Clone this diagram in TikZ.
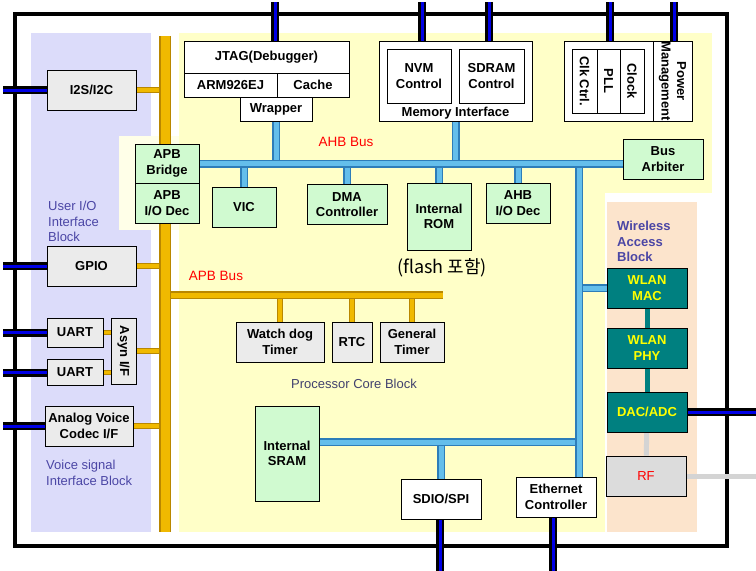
\documentclass[tikz,border=0pt]{standalone}
\usepackage{fontspec}
\setmainfont{Liberation Sans}
\newfontfamily\krfont{Noto Sans CJK KR}
\definecolor{lavender}{RGB}{220,220,250}
\definecolor{paleyel}{RGB}{255,255,200}
\definecolor{paleext}{RGB}{255,255,232}
\definecolor{peach}{RGB}{252,228,204}
\definecolor{boxgray}{RGB}{235,235,235}
\definecolor{boxgreen}{RGB}{208,250,208}
\definecolor{wlanteal}{RGB}{0,128,128}
\definecolor{wlanyel}{RGB}{255,255,0}
\definecolor{rfgray}{RGB}{220,220,220}
\definecolor{linkgray}{RGB}{212,212,212}
\definecolor{pinblue}{RGB}{0,0,230}
\definecolor{ahbblue}{RGB}{100,190,235}
\definecolor{ahbedge}{RGB}{45,125,185}
\definecolor{apbgold}{RGB}{240,185,0}
\definecolor{apbedge}{RGB}{185,135,0}
\definecolor{blocktxt}{RGB}{75,70,165}
\definecolor{coretxt}{RGB}{65,65,110}
\pgfdeclarelayer{regions}
\pgfdeclarelayer{links}
\pgfsetlayers{regions,links,main}
\tikzset{
  box/.style={draw=black, line width=0.8pt, inner sep=1pt, align=center,
    font=\bfseries\fontsize{13}{15.5}\selectfont},
  graybox/.style={box, fill=boxgray},
  greenbox/.style={box, fill=boxgreen},
  whitebox/.style={box, fill=white},
  wlanbox/.style={box, fill=wlanteal, text=wlanyel},
  blocklabel/.style={align=left, inner sep=0pt, text=blocktxt,
    font=\fontsize{13}{15.5}\selectfont},
  buslabel/.style={inner sep=0pt, text=red, font=\fontsize{13.5}{15}\selectfont},
  iopin/.style={draw=black, line width=2.5pt, double=pinblue, double distance=3pt},
  ahbbus/.style={draw=ahbedge, line width=1.5pt, double=ahbblue, double distance=5pt},
  apbbus/.style={draw=apbedge, line width=1.5pt, double=apbgold, double distance=9pt},
  apblink/.style={draw=apbedge, line width=1pt, double=apbgold, double distance=4pt},
  wlanlink/.style={draw=wlanteal, line width=5pt},
  rflink/.style={draw=linkgray, line width=5pt}
}
\begin{document}
\begin{tikzpicture}[x=1pt, y=-1pt]
  \useasboundingbox (0,0) rectangle (756,571);
  % bordi esterni
  \coordinate (edgeL) at (3,0);
  \coordinate (edgeR) at (756,0);
  \coordinate (edgeT) at (0,2);
  \coordinate (edgeB) at (0,571);

  % blocchi di sfondo
  \begin{pgfonlayer}{regions}
    \fill[lavender] (31,33) rectangle (151,532);
    \fill[paleyel] (179,33) rectangle (712,193);
    \fill[paleyel] (179,193) rectangle (605,532);
    \fill[paleext] (119,136) rectangle (179,230);
    \fill[peach] (607,202) rectangle (697,532);
    \draw[line width=4pt] (15,14) rectangle (727,546);
  \end{pgfonlayer}

  % User I/O
  \node[graybox, minimum width=89, minimum height=40] (i2s) at (91.5,90) {I2S/I2C};
  \node[graybox, minimum width=89, minimum height=40] (gpio) at (91.5,266) {GPIO};
  \node[graybox, minimum width=56, minimum height=29] (uart1) at (75,332.5) {UART};
  \node[graybox, minimum width=56, minimum height=26] (uart2) at (75,372.5) {UART};
  \node[graybox, minimum width=25, minimum height=66] (asyn) at (123.5,351) {};
  \node[rotate=-90, font=\bfseries\fontsize{13}{15}\selectfont] at (asyn) {Asyn I/F};
  \node[graybox, minimum width=88, minimum height=40] (avc) at (89,426) {Analog Voice\\Codec I/F};
  \node[blocklabel, anchor=north west] at (48,201) {User I/O\\Interface\\Block};
  \node[blocklabel, anchor=north west] at (46,460) {Voice signal\\Interface Block};

  % CPU e memorie
  \node[whitebox, minimum width=165, minimum height=32] (jtag) at (266.5,57) {JTAG(Debugger)};
  \node[whitebox, minimum width=93, minimum height=24] (arm) at (230.5,85) {ARM926EJ};
  \node[whitebox, minimum width=72, minimum height=24] (cache) at (313,85) {Cache};
  \node[whitebox, minimum width=72, minimum height=24] (wrap) at (276,109) {Wrapper};
  \node[whitebox, minimum width=153, minimum height=80] (mem) at (455.5,81) {};
  \node[whitebox, minimum width=64, minimum height=54] (nvm) at (419,76) {NVM\\Control};
  \node[whitebox, minimum width=65, minimum height=54] (sdram) at (491.5,76) {SDRAM\\Control};
  \node[font=\bfseries\fontsize{13}{15}\selectfont, inner sep=0pt] at (455.5,113) {Memory Interface};
  \node[whitebox, minimum width=89, minimum height=80] (clkbox) at (608.5,81) {};
  \node[whitebox, minimum width=25, minimum height=64] (clkctrl) at (584.5,81) {};
  \node[whitebox, minimum width=23, minimum height=64] (pll) at (608.5,81) {};
  \node[whitebox, minimum width=24, minimum height=64] (clock) at (632,81) {};
  \node[whitebox, minimum width=39, minimum height=80] (pwr) at (672.5,81) {};
  \node[rotate=-90, font=\bfseries\fontsize{13}{15}\selectfont] at (clkctrl) {Clk Ctrl.};
  \node[rotate=-90, font=\bfseries\fontsize{13}{15}\selectfont] at (pll) {PLL};
  \node[rotate=-90, font=\bfseries\fontsize{13}{15}\selectfont] at (clock) {Clock};
  \node[rotate=-90, align=center, inner sep=0pt,
    font=\bfseries\fontsize{13}{15.5}\selectfont] at (pwr) {Power\\Management};

  % AHB
  \node[greenbox, minimum width=64, minimum height=39] (apbbr) at (167,163.5) {APB\\Bridge};
  \node[greenbox, minimum width=64, minimum height=40] (apbdec) at (167,203) {APB\\I/O Dec};
  \node[greenbox, minimum width=80, minimum height=40] (arb) at (663,159) {Bus\\Arbiter};
  \node[greenbox, minimum width=64, minimum height=40] (vic) at (244,207) {VIC};
  \node[greenbox, minimum width=80, minimum height=40] (dma) at (347,204.5) {DMA\\Controller};
  \node[greenbox, minimum width=64, minimum height=67] (rom) at (439,216.5) {Internal\\ROM};
  \node[greenbox, minimum width=64, minimum height=40] (ahbdec) at (518,203) {AHB\\I/O Dec};
  \node[buslabel] at (346,142) {AHB Bus};
  \node[inner sep=0pt, font=\krfont\fontsize{18}{20}\selectfont] at (442,268) {(flash 포함)};

  % APB
  \node[buslabel] at (216,276) {APB Bus};
  \node[graybox, minimum width=88, minimum height=40] (wdt) at (280,342) {Watch dog\\Timer};
  \node[graybox, minimum width=40, minimum height=40] (rtc) at (352,342) {RTC};
  \node[graybox, minimum width=64, minimum height=40] (gtimer) at (412,342) {General\\Timer};
  \node[inner sep=0pt, text=coretxt, font=\fontsize{13}{15}\selectfont] at (354,384) {Processor Core Block};
  \node[greenbox, minimum width=64, minimum height=95] (sram) at (287,453.5) {Internal\\SRAM};
  \node[whitebox, minimum width=80, minimum height=40] (sdio) at (441,499) {SDIO/SPI};
  \node[whitebox, minimum width=80, minimum height=40] (eth) at (556,497) {Ethernet\\Controller};

  % Wireless
  \node[text=blocktxt, align=left, inner sep=0pt, anchor=north west,
    font=\bfseries\fontsize{13}{15.5}\selectfont] at (617,221) {Wireless\\Access\\Block};
  \node[wlanbox, minimum width=80, minimum height=40] (mac) at (647,288) {WLAN\\MAC};
  \node[wlanbox, minimum width=80, minimum height=40] (phy) at (647,348) {WLAN\\PHY};
  \node[wlanbox, minimum width=80, minimum height=40] (dac) at (647,412) {DAC/ADC};
  \node[box, fill=rfgray, text=red, font=\fontsize{13}{15}\selectfont,
    minimum width=80, minimum height=40] (rf) at (646,476) {RF};

  \begin{pgfonlayer}{links}
    % bus APB
    \coordinate (apbT) at (165,36);
    \coordinate (apbB) at (165,532);
    \coordinate (apbH) at (443,295);
    \foreach \n in {i2s, gpio, asyn, avc}
      \draw[apblink] (\n.east) -- (\n.east -| apbT);
    \foreach \n in {uart1, uart2}
      \draw[apblink, double distance=2.5pt] (\n.east) -- (\n.east -| asyn.west);
    \foreach \n in {wdt, rtc, gtimer}
      \draw[apblink] (\n.north) -- (\n.north |- apbH);
    \draw[apbbus, double distance=5pt] (apbH -| apbT) -- (apbH);
    \draw[apbbus] (apbT) -- (apbB);

    % bus AHB
    \coordinate (vb) at (579,163.5);
    \coordinate (sb) at (319,442);
    \foreach \n in {wrap.south, mem.south, vic.north, dma.north, rom.north, ahbdec.north}
      \draw[ahbbus] (\n) -- (\n |- apbbr.east);
    \draw[ahbbus] (sdio.north) -- (sdio.north |- sb);
    \draw[ahbbus] (mac.west) -- (mac.west -| vb);
    \draw[ahbbus] (sb) -- (sb -| vb);
    \draw[ahbbus] (vb) -- (vb |- eth.north);
    \draw[ahbbus] (apbbr.east) -- (apbbr.east -| arb.west);

    % wireless
    \draw[wlanlink] (mac) -- (phy);
    \draw[wlanlink] (phy) -- (dac);
    \draw[rflink] (dac) -- (rf);
    \draw[rflink] (rf.east) -- (rf.east -| edgeR);

    % pin esterni
    \foreach \n in {i2s, gpio, uart1, uart2, avc}
      \draw[iopin] (\n.west) -- (\n.west -| edgeL);
    \draw[iopin] ([xshift=8.5pt]jtag.north) -- ([xshift=8.5pt]jtag.north |- edgeT);
    \draw[iopin] ([xshift=-33.5pt]mem.north) -- ([xshift=-33.5pt]mem.north |- edgeT);
    \draw[iopin] ([xshift=33.5pt]mem.north) -- ([xshift=33.5pt]mem.north |- edgeT);
    \draw[iopin] ([xshift=1.5pt]clkbox.north) -- ([xshift=1.5pt]clkbox.north |- edgeT);
    \draw[iopin] ([xshift=1.5pt]pwr.north) -- ([xshift=1.5pt]pwr.north |- edgeT);
    \draw[iopin] ([xshift=-1pt]sdio.south) -- ([xshift=-1pt]sdio.south |- edgeB);
    \draw[iopin] ([xshift=-3pt]eth.south) -- ([xshift=-3pt]eth.south |- edgeB);
    \draw[iopin] (dac.east) -- (dac.east -| edgeR);
  \end{pgfonlayer}
\end{tikzpicture}
\end{document}
